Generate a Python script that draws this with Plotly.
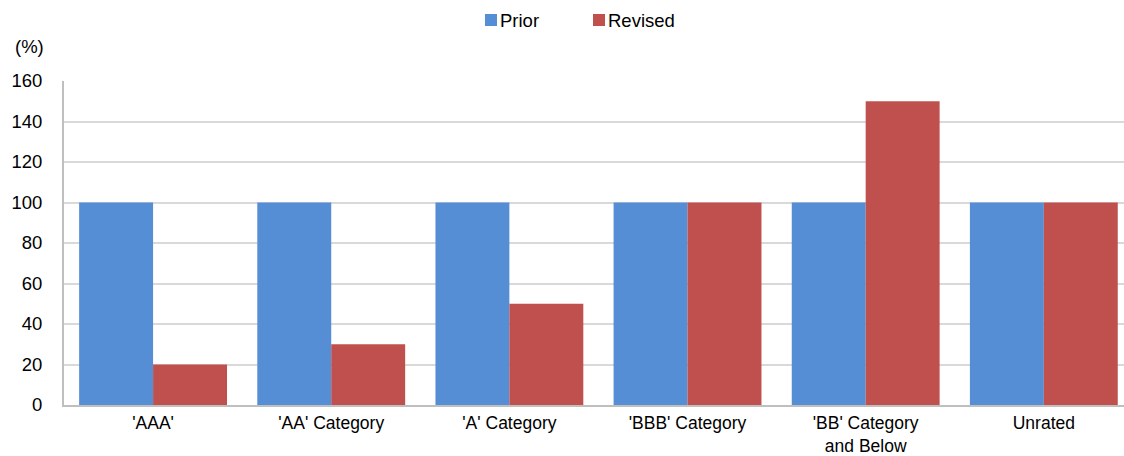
import plotly.graph_objects as go

categories = ["'AAA'", "'AA' Category", "'A' Category", "'BBB' Category", "'BB' Category<br>and Below", "Unrated"]
prior = [100, 100, 100, 100, 100, 100]
revised = [20, 30, 50, 100, 150, 100]
y_ticks = [0, 20, 40, 60, 80, 100, 120, 140, 160]
colors = ["#558ED5", "#C0504D"]

font = "Liberation Sans, Arial, sans-serif"
FS = 18.5
fig = go.Figure()
fig.add_trace(go.Bar(x=list(range(6)), y=prior, name="Prior", marker=dict(color=colors[0], line=dict(width=0))))
fig.add_trace(go.Bar(x=list(range(6)), y=revised, name="Revised", marker=dict(color=colors[1], line=dict(width=0))))

W, H = 1124, 456
ml, mt, mb = 64, 81, 51
fig.update_layout(
    width=W, height=H,
    margin=dict(l=ml, r=0, t=mt, b=mb),
    paper_bgcolor="white", plot_bgcolor="white",
    barmode="group", bargap=0.17, bargroupgap=0,
    font=dict(family=font, size=FS, color="#000"),
    showlegend=False,
)
fig.update_xaxes(range=[-0.5, 5.45], tickmode="array", tickvals=list(range(6)), ticktext=categories,
                 showline=True, linecolor="#BFBFBF", linewidth=2, ticks="", showgrid=False,
                 tickfont=dict(size=17.5), ticklabelstandoff=1, automargin=False)
fig.update_yaxes(range=[0, 160], tickmode="array", tickvals=y_ticks,
                 showline=True, linecolor="#BFBFBF", linewidth=2, ticks="",
                 showgrid=True, gridcolor="#D9D9D9", gridwidth=2, zeroline=False,
                 tickfont=dict(size=FS), ticklabelstandoff=16, automargin=False)

pw = W - ml
ph = H - mt - mb
def px_x(x):
    return (x - ml) / pw
def px_y(y):
    return 1 + (mt - y) / ph

fig.add_annotation(text="(%)", xref="paper", yref="paper", x=px_x(29.5), y=px_y(47), xanchor="center",
                   yanchor="middle", showarrow=False, font=dict(size=FS))

# custom legend
for name, col, x0 in [("Prior", colors[0], 485), ("Revised", colors[1], 593)]:
    fig.add_shape(type="rect", xref="paper", yref="paper", x0=px_x(x0), x1=px_x(x0 + 12),
                  y0=px_y(26), y1=px_y(14), fillcolor=col, line=dict(width=0))
    fig.add_annotation(text=name, xref="paper", yref="paper", x=px_x(x0 + 13), y=px_y(20),
                       xanchor="left", yanchor="middle", showarrow=False, font=dict(size=FS))

fig.write_html("out.html")
